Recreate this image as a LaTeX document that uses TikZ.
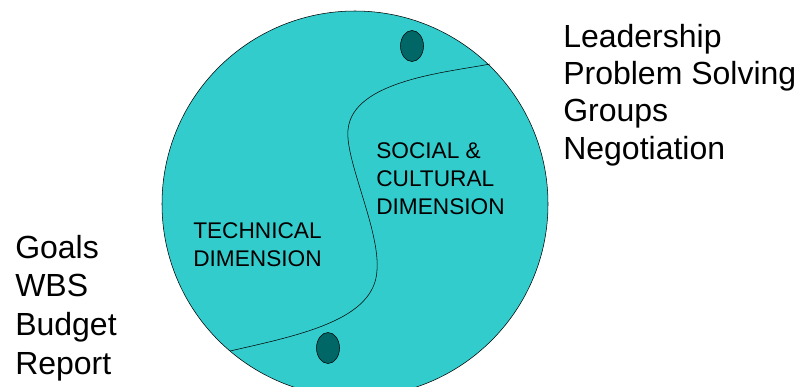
\documentclass[tikz,border=0pt]{standalone}
\usepackage{fontspec}
\setmainfont{Liberation Sans}
\usepackage{tikz}
\definecolor{teallight}{RGB}{51,204,204}
\definecolor{tealdark}{RGB}{0,102,102}
\tikzset{
  listtext/.style={anchor=base west,inner sep=0pt,align=left,font=\fontsize{24}{#1}\selectfont},
  dimtext/.style={anchor=base west,inner sep=0pt,align=left,font=\fontsize{17}{#1}\selectfont},
  knob/.style={draw=black,fill=tealdark,thin}
}
\begin{document}
\begin{tikzpicture}[x=0.75pt,y=-0.75pt]
\useasboundingbox (0,0) rectangle (800,386);
\begin{scope}
\clip (0,0) rectangle (800,386);
\draw[fill=teallight,thin] (355,204) circle (193);
\draw[thin] (230,351) .. controls (300,335) and (375,320) .. (377,270)
  .. controls (380,230) and (345,160) .. (348,130)
  .. controls (352,80) and (450,72) .. (490,64);
\draw[knob] (412,46) ellipse (11.5 and 15.5);
\draw[knob] (328,348) ellipse (11.5 and 15.5);
\end{scope}
% multi-line nodes sit on the baseline of their last line
\node[dimtext=21] (tech) at (193,266) {TECHNICAL\\DIMENSION};
\node[dimtext=21] (soc) at (376,214) {SOCIAL \&\\CULTURAL\\DIMENSION};
\node[listtext=28] (soft) at (563,159) {Leadership\\Problem Solving\\Groups\\Negotiation};
\node[listtext=29] (hard) at (15,374) {Goals\\WBS\\Budget\\Report};
\end{tikzpicture}
\end{document}
